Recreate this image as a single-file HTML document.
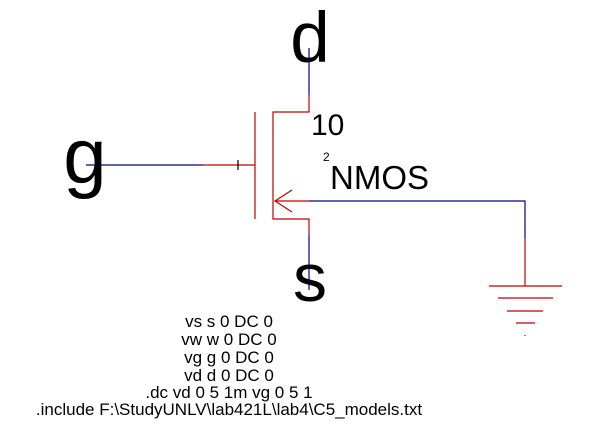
<!DOCTYPE html>
<html><head><style>
html,body{margin:0;padding:0;background:#fff;}
body{width:613px;height:436px;overflow:hidden;position:relative;}
svg{position:absolute;left:0;top:0;}
text{font-family:"Liberation Sans",Arial,sans-serif;fill:#000;}
</style></head><body>
<svg width="613" height="436" viewBox="0 0 613 436">
<g stroke-width="1.2" fill="none">
<line x1="309" y1="48" x2="309" y2="95" stroke="#00008b"/>
<polyline points="309,95 309,112 273,112 273,219 309,219 309,235" stroke="#c00000"/>
<line x1="309" y1="235" x2="309" y2="290" stroke="#00008b"/>
<line x1="255" y1="112" x2="255" y2="219" stroke="#c00000"/>
<line x1="86" y1="165" x2="203" y2="165" stroke="#00008b"/>
<line x1="203" y1="165" x2="255" y2="165" stroke="#c00000"/>
<line x1="238" y1="160" x2="238" y2="170" stroke="#000"/>
<line x1="275" y1="201" x2="309" y2="201" stroke="#c00000"/>
<polyline points="292,190 275,201 292,212" stroke="#c00000"/>
<polyline points="309,201 525,201 525,238" stroke="#00008b"/>
<line x1="525" y1="238" x2="525" y2="286" stroke="#c00000"/>
<line x1="489" y1="286" x2="562" y2="286" stroke="#c00000"/>
<line x1="498" y1="298" x2="553" y2="298" stroke="#c00000"/>
<line x1="507" y1="311" x2="543" y2="311" stroke="#c00000"/>
<line x1="516" y1="323" x2="535" y2="323" stroke="#c00000"/>
<line x1="525" y1="335" x2="525" y2="336" stroke="#c00000"/>
</g>
<text x="310" y="62" font-size="71" text-anchor="middle">d</text>
<text x="85" y="183" font-size="78" text-anchor="middle">g</text>
<text x="310" y="301" font-size="68" text-anchor="middle">s</text>
<text x="311" y="135" font-size="30">10</text>
<text x="323" y="161" font-size="12">2</text>
<text x="330" y="189" font-size="33">NMOS</text>
<g font-size="17" text-anchor="middle">
<text x="229" y="327">vs s 0 DC 0</text>
<text x="229" y="345">vw w 0 DC 0</text>
<text x="229" y="363">vg g 0 DC 0</text>
<text x="229" y="381">vd d 0 DC 0</text>
<text x="229" y="398">.dc vd 0 5 1m vg 0 5 1</text>
<text x="229" y="415">.include F:\StudyUNLV\lab421L\lab4\C5_models.txt</text>
</g>
</svg>
</body></html>
